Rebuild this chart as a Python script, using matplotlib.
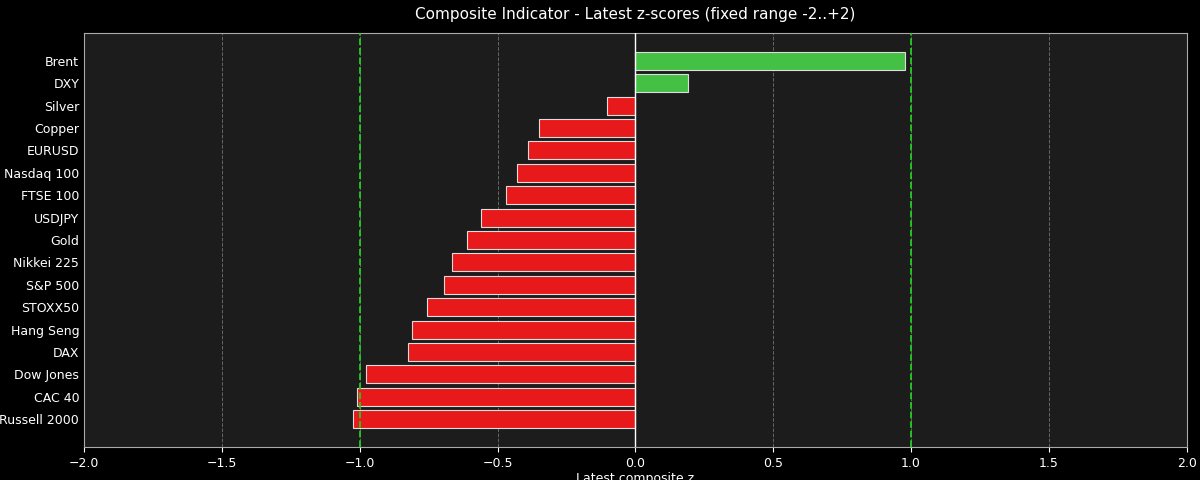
import matplotlib
matplotlib.use("Agg")
import matplotlib.pyplot as plt

names = ["Brent", "DXY", "Silver", "Copper", "EURUSD", "Nasdaq 100", "FTSE 100",
         "USDJPY", "Gold", "Nikkei 225", "S&P 500", "STOXX50", "Hang Seng", "DAX",
         "Dow Jones", "CAC 40", "Russell 2000"]
zscores = [0.977, 0.19, -0.103, -0.35, -0.39, -0.43, -0.47, -0.56, -0.61, -0.665,
           -0.695, -0.757, -0.81, -0.825, -0.978, -1.01, -1.025]

plt.style.use("dark_background")
plt.rcParams["font.size"] = 9
fig, ax = plt.subplots(figsize=(12, 4.8), dpi=100)
fig.patch.set_facecolor("black")
ax.set_facecolor("#1c1c1c")

colors = ["#44c144" if v > 0 else "#e8191a" for v in zscores]
ypos = list(range(len(names)))[::-1]
ax.barh(ypos, zscores, color=colors, edgecolor="#dddddd", linewidth=0.8, height=0.8, zorder=3)
ax.set_yticks(ypos)
ax.set_yticklabels(names)

ax.axvline(0, color="white", linewidth=1, zorder=4)
ax.axvline(-1, color="#22cc22", linestyle="--", linewidth=1.3, zorder=4)
ax.axvline(1, color="#22cc22", linestyle="--", linewidth=1.3, zorder=4)
ax.grid(axis="x", color="#666666", linestyle="--", linewidth=0.7, zorder=0)
ax.set_xlim(-2, 2)
ax.tick_params(axis="y", length=0)
for s in ax.spines.values():
    s.set_color("#aaaaaa")

ax.set_xlabel("Latest composite z", labelpad=2)
ax.set_title("Composite Indicator - Latest z-scores (fixed range -2..+2)", fontsize=11, pad=10)
plt.subplots_adjust(left=0.07, right=0.989, top=0.931, bottom=0.069)
fig.savefig("out.png", facecolor=fig.get_facecolor())
